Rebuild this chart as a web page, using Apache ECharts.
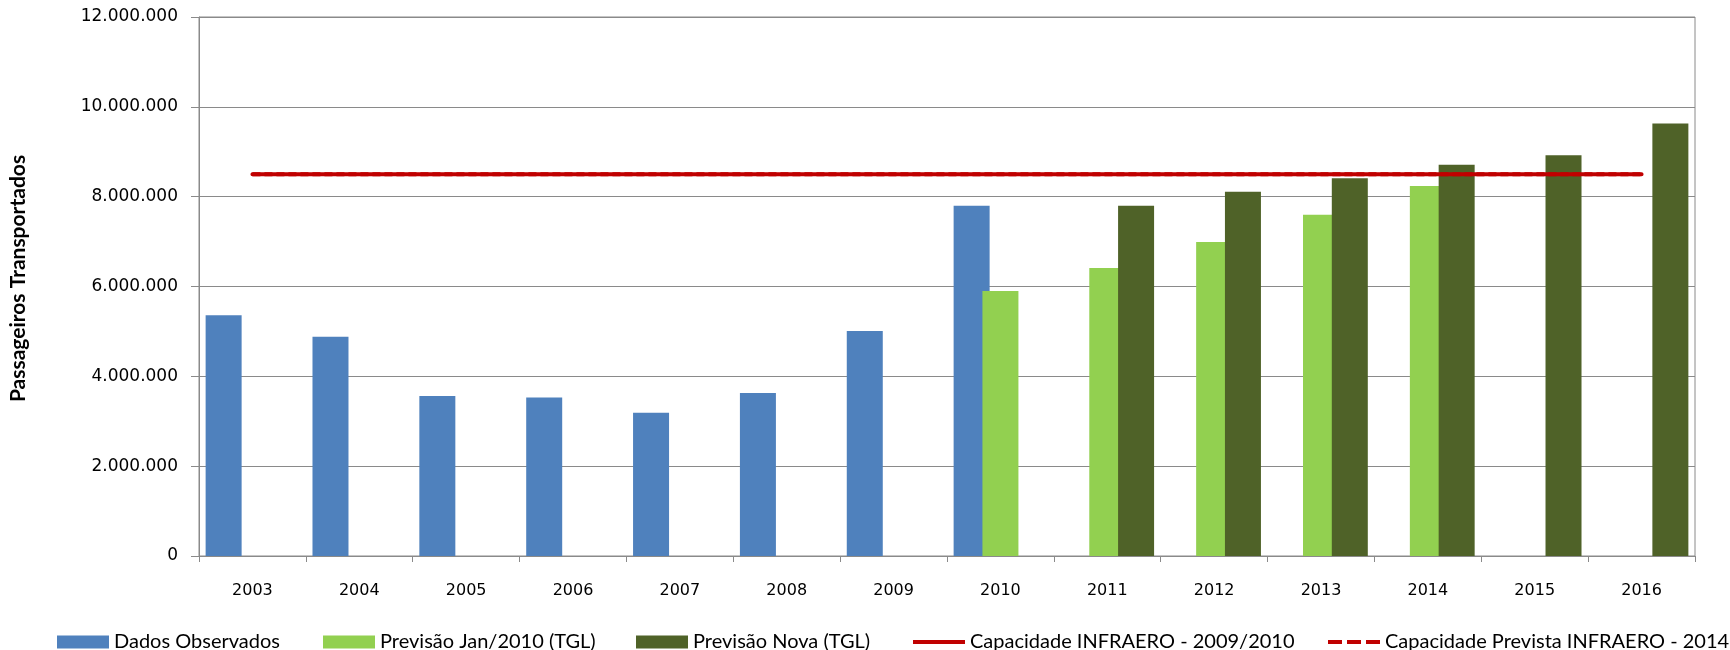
<!DOCTYPE html>
<html>
<head>
<meta charset="utf-8">
<script src="https://cdn.jsdelivr.net/npm/echarts@6/dist/echarts.min.js"></script>
<style>
html,body{margin:0;padding:0;background:#fff;}
#chart{width:1730px;height:650px;}
</style>
</head>
<body>
<div id="chart"></div>
<script>
const categories = ['2003','2004','2005','2006','2007','2008','2009','2010','2011','2012','2013','2014','2015','2016'];
const dadosObservados = [5360000,4880000,3560000,3530000,3190000,3630000,5010000,7800000,null,null,null,null,null,null];
const previsaoJan2010 = [null,null,null,null,null,null,null,5900000,6410000,6990000,7600000,8240000,null,null];
const previsaoNova = [null,null,null,null,null,null,null,null,7800000,8110000,8410000,8710000,8920000,9630000];
const capacidade2009 = [8500000,8500000,8500000,8500000,8500000,8500000,8500000,8500000,8500000,8500000,8500000,8500000,8500000,8500000];
const capacidade2014 = [8500000,8500000,8500000,8500000,8500000,8500000,8500000,8500000,8500000,8500000,8500000,8500000,8500000,8500000];
const seriesNames = ['Dados Observados','Previsão Jan/2010 (TGL)','Previsão Nova (TGL)','Capacidade INFRAERO - 2009/2010','Capacidade Prevista INFRAERO - 2014'];

function fmt(v){
  return String(v).replace(/\B(?=(\d{3})+(?!\d))/g,'.');
}

const chart = echarts.init(document.getElementById('chart'), null, {renderer:'canvas'});
const gridColor = '#8a8a8a';
const legendText = {fontFamily:'Lato', fontSize:20, color:'#000', lineHeight:22};
const legendLefts = [57,323,636,913,1328];
const legendIcons = ['rect','rect','rect','path://M0,0H52V4H0Z','path://M0,0H14V4H0Z M19,0H33V4H19Z M38,0H52V4H38Z'];
const legendHeights = [13,13,13,4,4];
const legends = seriesNames.map((n,i)=>({
  data:[{name:n, icon:legendIcons[i]}], left:legendLefts[i], top:631, padding:0, itemWidth:52, itemHeight:legendHeights[i],
  textStyle:legendText, selectedMode:false, itemStyle:{borderWidth:0}
}));

chart.setOption({
  animation:false,
  legend:legends,
  grid:{left:194,right:35,top:17,bottom:94,show:true,borderColor:gridColor,borderWidth:1},
  xAxis:{
    type:'category', data:categories, boundaryGap:true,
    axisLine:{lineStyle:{color:gridColor,width:1}},
    axisTick:{show:true,length:6,lineStyle:{color:gridColor}},
    axisLabel:{fontFamily:'DejaVu Sans',fontSize:16,color:'#000',margin:27}
  },
  yAxis:{
    type:'value', min:0, max:12000000, interval:2000000,
    name:'Passageiros Transportados', nameLocation:'middle', nameGap:170, nameRotate:90,
    nameTextStyle:{fontFamily:'Lato',fontWeight:'bold',fontSize:21,color:'#000',padding:[0,0,0,16]},
    axisLine:{show:true,lineStyle:{color:gridColor,width:1}},
    axisTick:{show:true,length:8,lineStyle:{color:gridColor}},
    splitLine:{show:true,lineStyle:{color:gridColor,width:1}},
    axisLabel:{fontFamily:'DejaVu Sans',fontSize:17,color:'#000',margin:21,formatter:fmt}
  },
  series:[
    {name:seriesNames[0],type:'bar',data:dadosObservados,barWidth:36,barGap:'-20%',itemStyle:{color:'#4F81BD'}},
    {name:seriesNames[1],type:'bar',data:previsaoJan2010,barWidth:36,barGap:'-20%',itemStyle:{color:'#92D050'}},
    {name:seriesNames[2],type:'bar',data:previsaoNova,barWidth:36,barGap:'-20%',itemStyle:{color:'#4F6228'}},
    {name:seriesNames[3],type:'line',data:capacidade2009,symbol:'none',lineStyle:{color:'#C00000',width:4,cap:'round'},itemStyle:{color:'#C00000'},z:5},
    {name:seriesNames[4],type:'line',data:capacidade2014,symbol:'none',lineStyle:{color:'#C00000',width:4,type:[8,4]},itemStyle:{color:'#C00000'},z:6}
  ]
});
</script>
</body>
</html>
